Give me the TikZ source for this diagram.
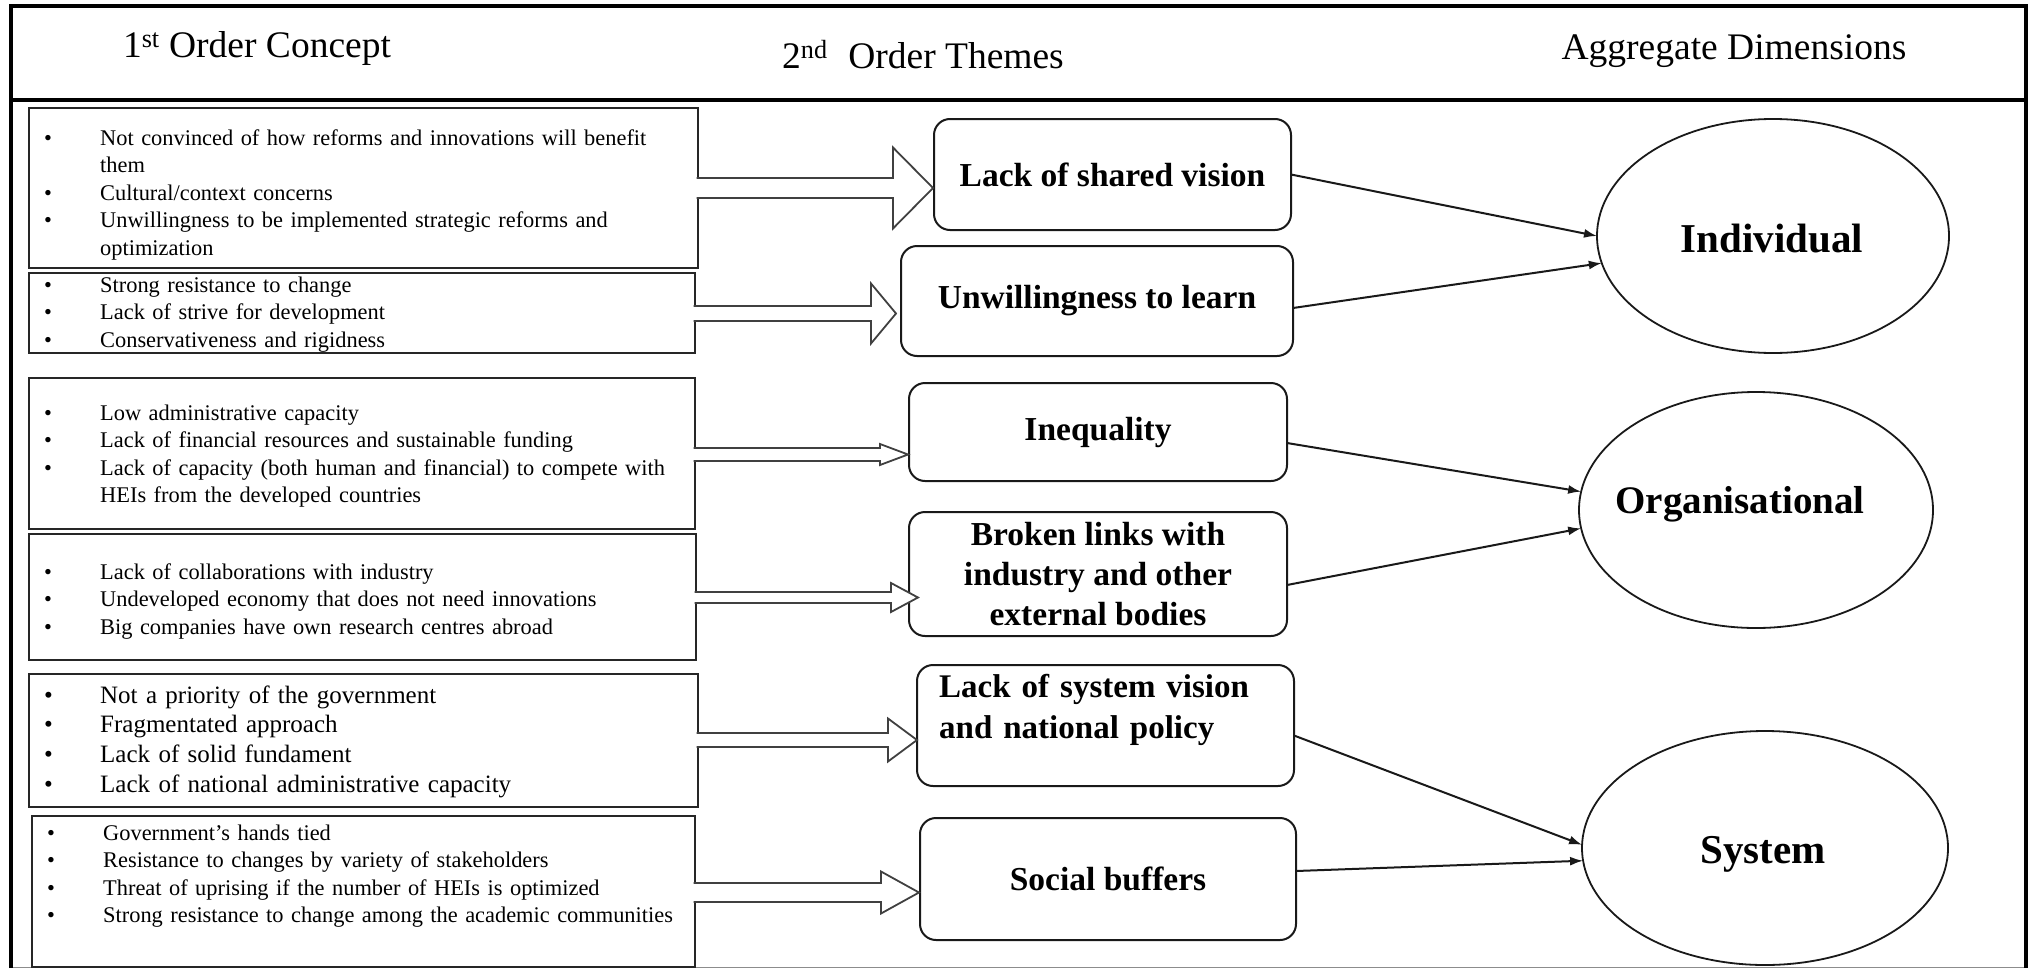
\documentclass[tikz,border=0pt]{standalone}
\usepackage{fontspec}
\setmainfont{Liberation Serif}
\usetikzlibrary{shapes.geometric,arrows.meta,calc}

% hollow block arrow from the right edge of a concept box to a theme box
% #1 source, #2 target, #3 axis y, #4 shaft half width, #5 head half width,
% #6 head length, #7 tip offset from the target's west side
\newcommand{\blockarrow}[7]{%
  \path (#2.west |- 0,#3) ++(#7,0) coordinate (tip);
  \path (#1.east |- 0,#3) coordinate (base);
  \filldraw[blockarrowstyle] ($(base)+(-1.5,-#4)$) -- ($(tip)+(-#6,-#4)$)
    -- ($(tip)+(-#6,-#5)$) -- (tip) -- ($(tip)+(-#6,#5)$)
    -- ($(tip)+(-#6,#4)$) -- ($(base)+(-1.5,#4)$);
}
\newcommand{\bul}{\makebox[56pt][l]{\textbullet}}
\newcommand{\cont}{\hspace*{56pt}}

\begin{document}
\begin{tikzpicture}[x=1pt,y=-1pt,
  conceptbox/.style={draw=black!85, line width=2pt, anchor=north west,
    inner sep=0pt, outer sep=0pt},
  bulletlist/.style={anchor=base west, inner sep=0pt, text width=720pt,
    align=left, font=\fontsize{22.4pt}{27.6pt}\selectfont},
  themebox/.style={draw=black!90, line width=2pt, rounded corners=16pt,
    inner sep=0pt, outer sep=0pt, align=center,
    font=\bfseries\fontsize{33.5pt}{40pt}\selectfont},
  dimellipse/.style={draw=black!90, ellipse, line width=1.8pt,
    inner sep=0pt, outer sep=0pt},
  dimtext/.style={font=\bfseries\fontsize{41pt}{48pt}\selectfont,
    anchor=base, inner sep=0pt},
  headtext/.style={font=\fontsize{37.5pt}{45pt}\selectfont, anchor=base,
    inner sep=0pt},
  linkarrow/.style={line width=2pt, draw=black!90,
    -{Latex[length=13pt,width=9pt]}},
  blockarrowstyle/.style={draw=black!75, line width=1.8pt, fill=white,
    line join=miter}
]
\useasboundingbox (0,0) rectangle (2031,969);

% outer frame and header rule
\draw[line width=1.5pt, black!45] (11,967.5) -- (2026,967.5);
\draw[line width=4pt] (11,968) -- (11,6) -- (2026,6) -- (2026,968);
\draw[line width=4pt] (11,100) -- (2026,100);

% column headings
\node[headtext] (h1) at (257,57) {1\textsuperscript{st} Order Concept};
\node[headtext] (h2) at (923,68) {2\textsuperscript{nd}\hspace{0.55em}Order Themes};
\node[headtext] (h3) at (1734,59) {Aggregate Dimensions};

% first order concepts
\node[conceptbox, minimum width=669pt, minimum height=160pt] (c1) at (29,108) {};
\node[conceptbox, minimum width=666pt, minimum height=80pt]  (c2) at (29,273) {};
\node[conceptbox, minimum width=666pt, minimum height=151pt] (c3) at (29,378) {};
\node[conceptbox, minimum width=667pt, minimum height=126pt] (c4) at (29,534) {};
\node[conceptbox, minimum width=669pt, minimum height=133pt] (c5) at (29,674) {};
\node[conceptbox, minimum width=663pt, minimum height=151pt] (c6) at (32,816) {};

\node[bulletlist] (l1) at (44,145) {\bul Not convinced of how reforms and innovations will benefit\\
  \cont them\\
  \bul Cultural/context concerns\\
  \bul Unwillingness to be implemented strategic reforms and\\
  \cont optimization};
\node[bulletlist] (l2) at (44,292) {\bul Strong resistance to change\\
  \bul Lack of strive for development\\
  \bul Conservativeness and rigidness};
\node[bulletlist] (l3) at (44,420) {\bul Low administrative capacity\\
  \bul Lack of financial resources and sustainable funding\\
  \bul Lack of capacity (both human and financial) to compete with\\
  \cont HEIs from the developed countries};
\node[bulletlist] (l4) at (44,579) {\bul Lack of collaborations with industry\\
  \bul Undeveloped economy that does not need innovations\\
  \bul Big companies have own research centres abroad};
\node[bulletlist, font=\fontsize{25pt}{29.7pt}\selectfont] (l5) at (44,703)
  {\bul Not a priority of the government\\
  \bul Fragmentated approach\\
  \bul Lack of solid fundament\\
  \bul Lack of national administrative capacity};
\node[bulletlist] (l6) at (47,840) {\bul Government's hands tied\\
  \bul Resistance to changes by variety of stakeholders\\
  \bul Threat of uprising if the number of HEIs is optimized\\
  \bul Strong resistance to change among the academic communities};

% second order themes
\node[themebox, minimum width=357pt, minimum height=111pt] (t1) at (1112.5,174.5) {Lack of shared vision};
\node[themebox, minimum width=392pt, minimum height=110pt] (t2) at (1097,301) {Unwillingness to learn};
\node[themebox, minimum width=378pt, minimum height=98pt]  (t3) at (1098,432) {Inequality};
\node[themebox, minimum width=378pt, minimum height=124pt] (t4) at (1098,574) {Broken links with\\industry and other\\external bodies};
\node[themebox, minimum width=377pt, minimum height=121pt] (t5) at (1105.5,725.5) {};
\node[anchor=base west, inner sep=0pt, text width=340pt, align=left,
  font=\bfseries\fontsize{33pt}{41pt}\selectfont] (t5text) at (939,697)
  {Lack of system vision\\and national policy};
\node[themebox, minimum width=376pt, minimum height=122pt] (t6) at (1108,879) {Social buffers};

% aggregate dimensions
\node[dimellipse, minimum width=352pt, minimum height=234pt] (ind) at (1773,236) {};
\node[dimellipse, minimum width=354pt, minimum height=236pt] (org) at (1756,510) {};
\node[dimellipse, minimum width=366pt, minimum height=234pt] (sys) at (1765,848) {};
\node[dimtext] (indtext) at (1772,252) {Individual};
\node[dimtext, font=\bfseries\fontsize{39pt}{46pt}\selectfont] (orgtext) at (1740,513) {Organisational};
\node[dimtext] (systext) at (1763,863) {System};

% concepts feeding themes
\blockarrow{c1}{t1}{188}{10}{40.5}{40}{-1}
\blockarrow{c2}{t2}{313.5}{7.5}{30}{25}{-5}
\blockarrow{c3}{t3}{454.5}{6.5}{10.5}{28}{-1}
\blockarrow{c4}{t4}{597.5}{5.5}{14.5}{27}{9}
\blockarrow{c5}{t5}{740}{7}{21.5}{29}{0}
\blockarrow{c6}{t6}{892.5}{9.5}{21}{38}{-1}

% themes feeding dimensions
\draw[linkarrow] (t1.east) -- (ind.180);
\draw[linkarrow] ($(t2.east)+(0,7)$) -- (ind.189);
\draw[linkarrow] ($(t3.east)+(0,11)$) -- (org.174);
\draw[linkarrow] ($(t4.east)+(0,11)$) -- (org.186);
\draw[linkarrow] ($(t5.east)+(0,10)$) -- (sys.179);
\draw[linkarrow] ($(t6.east)+(0,-8)$) -- (sys.184);
\end{tikzpicture}
\end{document}
